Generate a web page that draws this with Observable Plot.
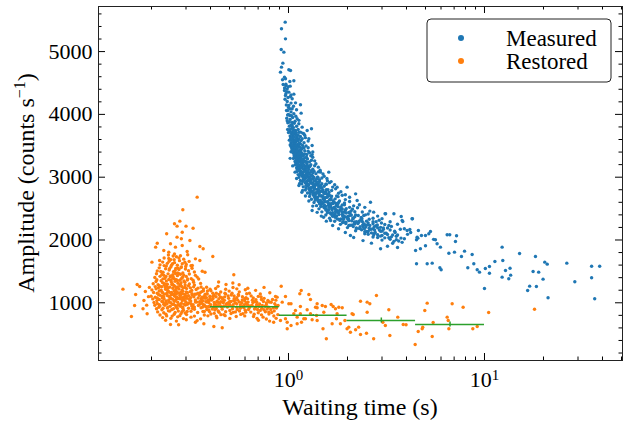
<!DOCTYPE html>
<html><head><meta charset="utf-8">
<script src="https://cdn.jsdelivr.net/npm/d3@7"></script>
<script src="https://cdn.jsdelivr.net/npm/@observablehq/plot@0.6"></script>
<style>body{margin:0;background:#fff}</style>
</head><body><div id="chart"></div>
<script>
// ---- data (waiting time s, amplitude counts/s) ----
const measured = [
[0.962,5469],[0.921,5363],[0.965,5203],[0.918,5034],[0.947,4991],[0.936,4816],[0.921,4752],[0.910,4673],[1.004,4710],[1.024,4699],
[0.954,4593],[0.932,4551],[0.965,4567],[1.016,4524],[1.065,4535],[0.939,4476],[0.969,4460],[1.02,4450],[0.985,4407],[0.954,4381],
[1.004,4354],[1.065,4322],[0.965,4301],[1.024,4285],[1.044,4248],[0.985,4205],[1.086,4184],[1.151,4153],[1.004,4142],[1.044,4089],
[0.977,4062],[1.099,4073],[1.16,4020],[1.065,4009],[1.016,3983],[1.107,3930],[0.992,3866],[1.044,3823],[1.129,3850],[1.174,3797],
[1.086,3744],[1.245,3744],[1.31,3771],[1.151,3717],[1.065,3691],[1.197,3691],
[1.00,4110],[1.03,4040],[1.05,3950],[1.08,3890],[1.02,3920],[0.99,3990],[1.06,4130],[1.10,3810],[1.04,3780],[1.12,3760],[1.01,3810],
[1.07,3860],[1.09,3970],[1.13,3905],[0.98,3940],[1.03,4180],
[1.00,3712],[1.04,3688],[1.08,3731],[1.12,3667],[1.18,3702],[1.02,3655],[1.06,3749],[1.10,3640],[0.99,3760],
[1.01,3590],[1.05,3622],[1.07,3571],[1.11,3608],[1.16,3585],[1.22,3630],[1.03,3548],[1.09,3560],[1.14,3540],
[1.02,3512],[1.05,3478],[1.08,3523],[1.12,3490],[1.15,3531],[1.20,3468],[1.04,3455],[1.10,3442],[1.17,3460],
[1.03,3405],[1.06,3380],[1.09,3418],[1.12,3371],[1.16,3396],[1.21,3422],[1.28,3388],[1.07,3347],[1.11,3333],[1.14,3358],[1.19,3341],[1.24,3362],
[1.06,3297],[1.09,3312],[1.12,3276],[1.15,3305],[1.19,3281],[1.25,3290],[1.33,3318],[1.08,3251],[1.11,3238],[1.14,3262],[1.18,3229],[1.22,3255],[1.28,3244],
[1.08,3196],[1.11,3210],[1.15,3181],[1.19,3204],[1.23,3177],[1.30,3199],[1.38,3215],[1.10,3150],[1.13,3133],[1.17,3162],[1.21,3141],[1.26,3158],[1.33,3127],
[1.10,3088],[1.14,3109],[1.18,3076],[1.23,3101],[1.28,3069],[1.35,3094],[1.45,3111],[1.12,3041],[1.16,3058],[1.20,3025],[1.25,3049],[1.31,3033],[1.38,3056],
[1.13,2997],[1.18,3012],[1.22,2981],[1.27,3006],[1.33,2976],[1.41,2999],[1.52,3015],[1.15,2948],[1.20,2962],[1.25,2935],[1.30,2957],[1.36,2941],[1.44,2960],[1.58,2944],
[1.17,2893],[1.22,2911],[1.27,2880],[1.33,2904],[1.40,2875],[1.48,2897],[1.62,2913],[1.19,2846],[1.25,2861],[1.30,2833],[1.36,2858],[1.43,2839],[1.52,2856],[1.68,2842],
[1.22,2795],[1.27,2812],[1.33,2781],[1.40,2806],[1.47,2777],[1.56,2799],[1.74,2814],[1.25,2748],[1.30,2762],[1.37,2733],[1.44,2759],[1.52,2740],[1.61,2757],[1.80,2745],
[1.28,2694],[1.34,2712],[1.41,2683],[1.48,2706],[1.56,2678],[1.66,2699],[1.88,2713],[1.31,2648],[1.38,2661],[1.45,2634],[1.53,2659],[1.62,2640],[1.73,2655],[1.95,2643],
[1.35,2596],[1.42,2611],[1.50,2583],[1.58,2607],[1.68,2579],[1.80,2598],[2.05,2614],[1.39,2547],[1.47,2562],[1.55,2535],[1.64,2560],[1.75,2541],[1.88,2556],[2.15,2544],
[1.43,2496],[1.52,2512],[1.61,2484],[1.71,2507],[1.83,2478],[1.97,2499],[2.25,2513],[1.48,2448],[1.58,2463],[1.68,2436],[1.79,2460],[1.92,2441],[2.08,2457],[2.38,2445],
[1.55,2397],[1.65,2411],[1.76,2383],[1.88,2408],[2.02,2379],[2.20,2399],[2.55,2414],[1.62,2347],[1.73,2363],[1.85,2336],[1.98,2361],[2.14,2342],[2.35,2358],[2.70,2346],
[1.72,2298],[1.83,2312],[1.96,2284],[2.10,2307],[2.28,2281],[2.50,2300],[2.90,2315],[1.84,2249],[1.96,2263],[2.10,2236],[2.26,2261],[2.45,2242],[2.70,2258],[3.10,2246],
[2.00,2197],[2.14,2213],[2.30,2184],[2.48,2208],[2.70,2180],[2.95,2201],[3.35,2216],[2.20,2148],[2.36,2163],[2.55,2136],[2.75,2160],[3.00,2141],[3.30,2158],
[2.45,2098],[2.65,2113],[2.85,2084],[3.10,2107],[3.40,2081],[2.70,2048],[2.95,2062],[3.25,2036],[3.55,2059],
[3.00,1998],[3.30,2012],[3.65,1985],[3.40,1948],[3.80,1962],
[1.05,3725],[1.09,3680],[1.13,3715],[1.06,3598],[1.10,3576],[1.13,3612],[1.07,3497],[1.11,3520],[1.14,3476],[1.18,3505],
[1.08,3392],[1.13,3410],[1.17,3374],[1.10,3365],[1.10,3285],[1.14,3300],[1.17,3262],[1.21,3308],[1.13,3247],
[1.13,3190],[1.17,3205],[1.21,3168],[1.25,3188],[1.16,3145],[1.16,3092],[1.21,3113],[1.25,3080],[1.30,3097],[1.19,3035],
[1.20,2990],[1.25,3008],[1.30,2972],[1.35,2995],[1.23,2930],[1.28,2952],[1.25,2888],[1.30,2906],[1.36,2871],[1.42,2895],[1.28,2830],[1.34,2852],
[1.30,2790],[1.36,2808],[1.43,2772],[1.50,2797],[1.34,2730],[1.41,2752],[1.37,2690],[1.44,2707],[1.51,2672],[1.59,2696],[1.42,2630],[1.50,2652],
[1.46,2590],[1.54,2608],[1.63,2572],[1.72,2594],[1.51,2532],[1.60,2553],[1.56,2490],[1.66,2508],[1.76,2472],[1.88,2494],[1.63,2433],[1.74,2454],
[1.70,2392],[1.81,2407],[1.94,2371],[2.08,2394],[1.80,2333],[1.91,2354],[1.90,2292],[2.03,2308],[2.18,2273],[2.38,2295],[2.03,2230],[2.18,2254],
[2.22,2190],[2.40,2206],[2.60,2172],[2.85,2194],[2.45,2130],[2.55,2092],[2.75,2107],[3.00,2072],[2.85,2040],
[1.015,3735],[1.055,3662],[1.095,3705],[1.15,3648],[1.21,3668],[1.025,3625],[1.065,3555],[1.12,3585],[1.175,3612],[1.26,3575],
[1.03,3488],[1.065,3535],[1.095,3463],[1.13,3512],[1.165,3445],[1.23,3498],[1.045,3432],[1.075,3412],[1.105,3388],[1.15,3429],[1.185,3368],[1.26,3412],[1.32,3360],
[1.07,3322],[1.095,3268],[1.125,3330],[1.165,3288],[1.20,3248],[1.235,3318],[1.31,3270],[1.09,3230],[1.12,3172],[1.16,3228],[1.20,3188],[1.24,3222],[1.28,3168],[1.36,3182],
[1.11,3128],[1.15,3071],[1.19,3132],[1.235,3062],[1.27,3125],[1.33,3071],[1.42,3085],[1.14,3031],[1.19,2972],[1.235,3037],[1.28,2985],[1.32,3028],[1.39,2968],[1.48,2988],
[1.18,2932],[1.23,2872],[1.285,2935],[1.34,2885],[1.39,2926],[1.46,2868],[1.56,2887],[1.23,2832],[1.29,2775],[1.35,2836],[1.42,2786],[1.48,2828],[1.55,2768],[1.66,2788],
[1.29,2733],[1.36,2676],[1.43,2737],[1.50,2686],[1.58,2727],[1.65,2669],[1.79,2690],[1.37,2634],[1.44,2577],[1.52,2638],[1.60,2586],[1.69,2627],[1.78,2569],[1.93,2589],
[1.46,2534],[1.55,2478],[1.64,2538],[1.74,2487],[1.85,2527],[1.95,2471],[2.12,2490],[1.58,2434],[1.68,2378],[1.79,2438],[1.91,2387],[2.05,2427],[2.18,2371],[2.42,2391],
[1.77,2334],[1.89,2278],[2.02,2338],[2.17,2287],[2.34,2327],[2.55,2271],[2.80,2292],[2.06,2234],[2.22,2178],[2.39,2238],[2.58,2187],[2.80,2227],[3.05,2171],[3.20,2190],
[2.50,2134],[2.72,2078],[2.95,2138],[3.20,2087],[3.50,2120],[3.10,2034],[3.45,1978],[3.75,2030],[3.55,2005],
[0.955,4420],[0.97,4330],[0.975,4150],[0.96,4240],[0.99,4060],[0.995,4270],[0.985,3900],[1.01,3880],[1.0,4000],[1.015,4090],[0.97,4480],[0.98,4360],[0.995,4440],[1.03,4310],[1.035,3980],
[1.02,3760],[1.025,3590],[1.035,3700],[1.04,3510],[1.045,3870],[1.05,3640],[1.055,3420],[1.06,3790],[1.03,3830],[1.04,3620],[1.05,3560],[1.06,3470],[1.055,3690],
[1.07,3640],[1.075,3430],[1.08,3580],[1.085,3320],[1.09,3500],[1.095,3240],[1.10,3410],[1.07,3720],[1.08,3370],[1.09,3600],[1.10,3290],[1.085,3470],
[1.11,3450],[1.115,3190],[1.12,3360],[1.13,3100],[1.135,3540],[1.14,3280],[1.15,3420],[1.155,3040],[1.16,3330],[1.12,3230],[1.13,3390],[1.15,3150],[1.16,3210],
[1.17,3290],[1.18,3060],[1.19,3200],[1.20,2960],[1.21,3370],[1.22,3110],[1.23,2920],[1.24,3240],[1.18,3340],[1.20,3090],[1.22,3020],[1.24,3150],[1.19,2990],
[1.25,3100],[1.26,2880],[1.27,3050],[1.28,2800],[1.29,3180],[1.30,2930],[1.31,3090],[1.32,2840],[1.33,3010],[1.34,2760],[1.26,2960],[1.30,3020],[1.33,2890],
[1.35,2940],[1.37,2720],[1.38,2890],[1.40,2660],[1.41,3000],[1.43,2800],[1.44,2930],[1.46,2700],[1.36,2820],[1.39,2760],[1.42,2870],[1.45,2620],
[1.47,2830],[1.49,2600],[1.51,2760],[1.53,2550],[1.55,2890],[1.57,2680],[1.59,2800],[1.61,2520],[1.50,2690],[1.54,2740],[1.58,2610],[1.62,2710],
[1.64,2640],[1.67,2480],[1.70,2600],[1.73,2420],[1.76,2700],[1.79,2530],[1.82,2620],[1.66,2580],[1.71,2520],[1.75,2580],[1.80,2450],
[1.85,2510],[1.89,2380],[1.93,2560],[1.97,2430],[2.01,2330],[2.05,2520],[2.09,2400],[1.87,2450],[1.95,2480],[2.03,2440],[1.91,2330],
[2.13,2350],[2.18,2450],[2.22,2290],[2.27,2390],[2.32,2210],[2.37,2340],[2.42,2260],[2.47,2400],[2.16,2260],[2.29,2300],[2.44,2180],
[2.53,2240],[2.58,2330],[2.64,2170],[2.70,2290],[2.77,2120],[2.84,2240],[2.91,2160],[2.98,2270],[2.60,2230],[2.74,2210],
[3.05,2190],[3.15,2110],[3.25,2230],[3.35,2050],[3.48,2140],[3.6,2080],[3.72,2170],[3.9,2020],[4.05,2090],
[1.20,3550],[1.26,3470],[1.30,3340],[1.36,3260],[1.42,3160],[1.50,3050],[1.57,2980],[1.65,2930],[1.72,2880],[1.85,2770],[1.95,2720],[2.05,2680],
[2.3,2560],[2.45,2520],[2.6,2460],[2.85,2380],[3.0,2340],[3.3,2290],[3.6,2250],[3.9,2180],[4.2,2120],[4.6,2150],[5.5,2010],
[1.02,3300],[1.05,3180],[1.08,3080],[1.10,2980],[1.14,2900],[1.18,2790],[1.22,2700],[1.27,2620],[1.33,2540],[1.40,2440],[1.47,2380],[1.56,2300],
[1.68,2230],[1.80,2180],[1.95,2120],[2.15,2040],[2.4,1990],[2.65,1950],[3.2,1900],[3.6,1880],
[1.27,3612],[1.32,3505],[1.33,3400],[1.456,3080],[1.605,3080],[1.77,2841],[1.99,2841],[2.2,2735],[2.24,2629],[2.62,2602],[2.72,2443],
[3.13,2417],[3.8,2311],[4.27,2338],[4.03,2151],[4.53,2045],[5.0,2072],[1.13,2868],[1.17,2761],[1.32,2470],[1.51,2363],[1.64,2311],[2.07,2072],[2.95,1860],
[3.11,2417],[3.45,2417],[3.76,2374],[4.29,2338],[3.83,2295],[4.16,2167],[4.77,2072],[5.30,2135],[5.20,2099],[4.57,2029],[4.50,2003],
[6.45,2083],[6.65,2083],[7.20,2067],[7.11,1976],[5.62,2003],[5.73,1940],[5.96,1886],[5.00,1908],[4.71,1860],[4.45,1833],[4.50,1621],
[5.10,1621],[5.41,1631],[5.92,1557],[6.01,1525],[6.58,1790],[7.03,1806],[7.63,1737],[7.91,1822],[8.65,1769],[8.22,1557],[8.82,1621],
[9.43,1488],[9.18,1525],[10.1,1546],[10.6,1578],[11.3,1658],[10.0,1228],[10.6,1471],[12.3,1886],[12.4,1674],[12.8,1514],[13.5,1551],
[12.3,1408],[13.3,1382],[13.6,1440],[15.1,1785],[18.2,1737],[17.7,1498],[18.9,1488],[18.4,1260],[16.6,1196],[17.0,1265],[19.9,1376],
[20.3,1647],[20.9,1615],[21.1,1080],[26.3,1631],[28.9,1334],[35.2,1583],[38.7,1583],[35.2,1398],[36.5,1064]
];
const restored = [
[0.232,1712],[0.251,1688],[0.268,1734],[0.292,1695],
[0.221,1604],[0.238,1585],[0.256,1622],[0.271,1597],[0.284,1571],[0.301,1610],[0.318,1589],
[0.214,1508],[0.229,1487],[0.246,1522],[0.259,1495],[0.276,1531],[0.289,1476],[0.309,1512],[0.331,1490],
[0.208,1402],[0.221,1421],[0.234,1388],[0.249,1415],[0.262,1379],[0.271,1432],[0.286,1396],[0.301,1420],[0.319,1384],[0.342,1409],
[0.204,1302],[0.216,1288],[0.228,1321],[0.241,1296],[0.252,1334],[0.259,1279],[0.273,1312],[0.281,1290],[0.296,1326],[0.312,1301],[0.331,1284],[0.356,1309],
[0.201,1205],[0.211,1222],[0.219,1188],[0.236,1214],[0.244,1179],[0.257,1231],[0.266,1196],[0.276,1219],[0.289,1184],[0.302,1226],[0.321,1197],[0.338,1211],[0.368,1189],[0.398,1216],
[0.199,1104],[0.209,1088],[0.221,1121],[0.231,1097],[0.241,1115],[0.249,1079],[0.262,1109],[0.269,1092],[0.281,1124],[0.291,1086],[0.309,1112],[0.329,1095],[0.351,1118],[0.381,1083],[0.412,1106],[0.448,1091],
[0.206,1004],[0.214,988],[0.226,1021],[0.236,995],[0.246,1013],[0.259,979],[0.272,1008],[0.284,990],[0.299,1017],[0.318,984],[0.341,1011],[0.362,993],[0.391,1019],[0.421,986],[0.462,1008],[0.498,991],
[0.212,906],[0.226,889],[0.241,918],[0.254,893],[0.271,911],[0.291,882],[0.309,914],[0.331,896],[0.358,921],[0.392,887],[0.428,909],
[0.221,806],[0.239,791],[0.261,818],[0.279,795],[0.302,812],[0.331,788],[0.372,806],
[0.236,722],[0.268,708],[0.301,731],[0.342,716],
[0.226,1452],[0.243,1461],[0.257,1448],[0.265,1467],[0.281,1455],
[0.224,1352],[0.238,1345],[0.252,1363],[0.264,1341],[0.278,1357],[0.293,1348],
[0.225,1255],[0.239,1262],[0.248,1249],[0.262,1268],[0.271,1252],[0.285,1259],[0.297,1247],
[0.214,1152],[0.228,1159],[0.239,1147],[0.253,1164],[0.263,1149],[0.275,1156],[0.288,1142],[0.305,1161],[0.322,1145],
[0.219,1052],[0.232,1061],[0.245,1046],[0.256,1058],[0.266,1043],[0.279,1064],[0.294,1049],[0.312,1057],[0.335,1045],[0.358,1062],
[0.221,952],[0.234,961],[0.249,946],[0.265,958],[0.281,944],[0.298,963],[0.321,949],[0.347,957],[0.372,948],
[0.244,1761],[0.262,1778],[0.281,1748],[0.306,1765],
[0.228,1648],[0.246,1662],[0.262,1639],[0.278,1671],[0.296,1645],[0.311,1659],
[0.219,1556],[0.236,1541],[0.251,1569],[0.266,1548],[0.283,1562],[0.298,1538],[0.322,1551],
[0.212,1462],[0.231,1438],[0.251,1429],[0.272,1474],[0.292,1441],[0.312,1458],[0.335,1437],
[0.213,1368],[0.229,1381],[0.245,1372],[0.257,1395],[0.268,1366],[0.283,1377],[0.305,1362],[0.326,1359],[0.348,1378],
[0.209,1258],[0.219,1271],[0.232,1281],[0.243,1236],[0.254,1290],[0.267,1241],[0.279,1274],[0.291,1238],[0.309,1271],[0.328,1254],[0.345,1233],
[0.205,1163],[0.217,1132],[0.226,1175],[0.233,1138],[0.247,1166],[0.258,1131],[0.269,1171],[0.282,1165],[0.296,1131],[0.315,1177],[0.333,1135],[0.355,1162],[0.382,1141],
[0.203,1062],[0.213,1035],[0.227,1077],[0.238,1029],[0.251,1072],[0.261,1031],[0.273,1069],[0.287,1033],[0.302,1072],[0.317,1029],[0.346,1077],[0.366,1035],[0.398,1052],
[0.208,961],[0.218,929],[0.231,978],[0.243,931],[0.256,974],[0.268,929],[0.277,971],[0.289,934],[0.305,976],[0.331,931],[0.352,975],[0.381,936],
[0.215,855],[0.231,841],[0.248,868],[0.264,846],[0.286,859],[0.297,838],[0.318,866],[0.344,845],[0.366,862],
[0.228,764],[0.251,752],[0.272,776],[0.291,748],[0.318,771],[0.356,744],
[0.211,1338],[0.217,1238],[0.223,1498],[0.227,1105],[0.233,1302],[0.237,1418],[0.242,1192],[0.247,1542],[0.252,1128],[0.255,1308],
[0.258,1412],[0.261,1193],[0.264,1516],[0.267,1085],[0.270,1352],[0.273,1237],[0.276,1463],[0.279,1115],[0.283,1319],[0.286,1202],
[0.289,1410],[0.293,1088],[0.297,1285],[0.301,1172],[0.306,1378],[0.311,1062],[0.316,1238],[0.322,1125],[0.328,1327],[0.335,1011],
[0.214,1077],[0.219,968],[0.224,1202],[0.229,1017],[0.235,1248],[0.240,985],[0.246,1102],[0.251,1001],[0.257,1135],[0.262,1023],
[0.268,1145],[0.274,962],[0.281,1087],[0.287,1055],[0.294,978],[0.301,1110],[0.309,998],[0.317,1083],[0.326,968],[0.338,1138],
[0.232,1592],[0.241,1628],[0.253,1598],[0.261,1685],[0.272,1552],[0.287,1622],[0.299,1577],[0.245,1705],[0.276,1712],[0.258,1745],
[0.229,912],[0.244,872],[0.259,905],[0.274,868],[0.289,912],[0.304,862],[0.324,908],[0.237,818],[0.255,788],[0.283,828],
[0.382,1248],[0.437,1262],[0.521,1243],[0.361,1178],[0.402,1192],[0.451,1171],[0.498,1186],[0.561,1174],
[0.372,1101],[0.418,1115],[0.472,1094],[0.528,1108],[0.582,1097],
[0.361,1031],[0.388,1045],[0.432,1024],[0.471,1039],[0.509,1021],[0.551,1042],[0.598,1027],
[0.372,962],[0.401,971],[0.439,954],[0.482,968],[0.519,949],[0.568,966],[0.621,957],
[0.383,893],[0.421,884],[0.459,899],[0.502,878],[0.548,894],[0.602,882],
[0.402,822],[0.452,811],[0.509,829],[0.571,815],[0.431,762],[0.502,751],
[0.392,1002],[0.412,1068],[0.445,998],[0.462,1058],[0.488,931],[0.535,1002],[0.455,935],[0.415,928],[0.376,1072],[0.528,1065],
[0.577,1001],[0.592,920],[0.442,850],[0.536,855],[0.395,860],
[0.368,1222],[0.425,1228],[0.478,1215],[0.545,1222],[0.602,1208],
[0.385,1142],[0.428,1151],[0.478,1138],[0.515,1151],[0.555,1132],[0.612,1145],
[0.365,1085],[0.398,1078],[0.441,1062],[0.495,1071],[0.545,1081],[0.598,1065],
[0.381,1012],[0.418,1005],[0.452,1016],[0.491,999],[0.525,1032],[0.562,1011],[0.612,997],
[0.365,932],[0.395,941],[0.428,962],[0.468,948],[0.501,962],[0.545,929],[0.585,944],[0.611,975],
[0.372,861],[0.408,902],[0.438,871],[0.478,858],[0.518,905],[0.562,868],[0.605,851],
[0.388,792],[0.428,788],[0.475,795],[0.541,782],[0.598,791],
[0.345,1152],[0.352,1018],[0.358,1252],[0.362,1088],[0.368,968],[0.375,1132],[0.379,1019],[0.386,1188],[0.391,942],[0.397,1105],
[0.405,1042],[0.411,1152],[0.419,962],[0.427,1095],[0.434,1008],[0.442,1131],[0.449,952],[0.457,1082],[0.465,1002],[0.474,1151],
[0.483,985],[0.492,1108],[0.501,1021],[0.511,1125],[0.522,968],[0.533,1052],[0.544,985],[0.556,1118],[0.568,912],[0.581,1045],
[0.594,968],[0.607,1082],[0.622,1011],[0.638,948],[0.654,1042],[0.671,902],[0.689,1008],[0.708,945],[0.728,1052],[0.749,888],
[0.771,968],[0.793,852],[0.816,1008],[0.838,922],[0.862,1042],[0.885,958],[0.418,832],[0.468,812],[0.522,848],[0.585,828],
[0.48,1292],[0.56,1288],[0.62,1232],[0.68,1198],[0.75,1245],[0.52,1315],[0.44,1330],
[0.632,1152],[0.718,1139],[0.803,1161],[0.618,1063],[0.682,1048],[0.751,1071],[0.829,1052],
[0.611,992],[0.658,1004],[0.712,981],[0.771,999],[0.851,984],[0.631,921],[0.679,934],[0.731,913],[0.792,929],[0.868,917],
[0.642,852],[0.701,841],[0.762,858],[0.821,846],[0.663,782],[0.742,771],[0.842,789],[0.702,722],[0.801,708],
[0.652,958],[0.695,892],[0.745,1021],[0.688,968],[0.761,945],[0.812,892],[0.645,1110],[0.701,1102],
[0.661,1078],[0.725,1092],[0.785,1038],[0.858,1102],[0.672,1018],[0.735,958],[0.798,1012],[0.862,952],
[0.625,892],[0.718,879],[0.778,901],[0.845,871],[0.668,818],[0.728,808],[0.795,822],[0.882,812],
[0.691,752],[0.771,742],[0.865,752],
[0.342,2682],[0.289,2481],[0.279,2300],[0.262,2258],[0.270,2220],[0.300,2220],[0.326,2188],[0.287,2124],[0.239,2099],[0.270,2045],
[0.284,2019],[0.314,1992],[0.214,1949],[0.210,1886],[0.250,1940],[0.265,1886],[0.287,1912],[0.353,1897],[0.367,1860],[0.304,1817],
[0.231,1833],[0.245,1806],[0.411,1737],[0.335,1700],[0.353,1674],[0.201,1647],[0.220,1674],[0.323,1594],[0.363,1503],[0.526,1446],
[0.375,1487],[0.169,1291],[0.174,1260],[0.143,1217],[0.166,1132],[0.183,1037],[0.164,957],[0.190,825],[0.158,782],[0.250,654],
[0.275,650],[0.416,623],[0.459,602],[0.370,666],[0.335,691],[0.186,1180],[0.193,1098],[0.189,962],[0.195,1245],[0.181,905],
[0.918,1264],[1.161,1196],[1.142,1143],[1.27,1132],[1.295,1053],[0.965,1100],[0.875,1090],[0.929,1010],[1.004,984],[1.03,984],
[1.085,877],[1.15,941],[1.245,889],[1.295,825],[1.40,920],[1.486,957],[1.543,941],[1.65,973],[1.514,850],[1.39,798],
[1.32,729],[1.197,745],[1.107,666],[0.985,691],[0.985,586],[0.91,718],[0.84,691],[1.50,586],[1.56,427],[1.737,904],
[1.806,930],[1.88,920],[1.77,825],[1.67,666],[1.84,666],[1.94,718],[1.99,586],[2.07,532],[2.11,825],[2.33,1025],
[2.52,1010],[2.60,984],[2.81,1116],[2.52,850],[2.28,612],[2.2,570],[2.33,495],[2.50,516],[2.72,427],[3.25,889],
[3.12,639],[3.29,479],[0.965,745],[1.03,639],[1.064,825],[1.15,825],[1.22,745],[1.374,930],[1.69,941],[1.40,718],
[1.757,745],[2.03,612],[2.14,814],[3.61,771],[1.40,984],[1.165,691],[1.107,771],
[3.03,691],[3.85,654],[3.98,650],[4.43,336],[4.59,543],[4.81,586],[4.84,612],[4.96,877],[5.10,994],[5.47,686],
[5.41,463],[6.45,771],[6.53,718],[6.58,586],[6.84,984],[7.78,930],[8.72,586],[9.18,623],[10.5,846],[18.0,898]
];
// binned mean of the restored amplitudes (green)
const binLo   = [0.40, 0.897, 1.99, 4.45];
const binHi   = [0.897, 1.99, 4.45, 10.0];
const binMean = [938, 800, 718, 654];
const binErr  = [8, 15, 40, 40];
// axes
const xMajorTicks = [1, 10];
const xMinorTicks = [0.2,0.3,0.4,0.5,0.6,0.7,0.8,0.9,2,3,4,5,6,7,8,9,20,30,40,50];
const yMajorTicks = [1000, 2000, 3000, 4000, 5000];
const yMinorTicks = [200,400,600,800,1200,1400,1600,1800,2200,2400,2600,2800,3200,3400,3600,3800,4200,4400,4600,4800,5200,5400,5600];
const seriesNames  = ["Measured", "Restored"];
const seriesColors = ["#1f77b4", "#ff7f0e"];
const fitColor = "#2ca02c";

const bins = binLo.map((lo, i) => ({lo, hi: binHi[i], mean: binMean[i], err: binErr[i], mid: Math.sqrt(lo * binHi[i])}));

const W = 633, H = 424, mL = 98, mR = 11, mT = 6, mB = 64;
const iw = W - mL - mR, ih = H - mT - mB;
const font = '"Liberation Serif", Tinos, "Times New Roman", "Nimbus Roman", "DejaVu Serif", serif';

const chart = Plot.plot({
  width: W, height: H, marginLeft: mL, marginRight: mR, marginTop: mT, marginBottom: mB,
  style: {fontFamily: font, fontSize: "22px", color: "#000", background: "#fff"},
  x: {type: "log", domain: [0.1073, 50.6]},
  y: {domain: [81, 5718]},
  marks: [
    Plot.dot(measured, {x: d => d[0], y: d => d[1], r: 1.7, fill: seriesColors[0]}),
    Plot.dot(restored, {x: d => d[0], y: d => d[1], r: 1.7, fill: seriesColors[1]}),
    Plot.ruleY(bins, {y: "mean", x1: "lo", x2: "hi", stroke: fitColor, strokeWidth: 1.5}),
    Plot.ruleX(bins, {x: "mid", y1: d => d.mean - d.err, y2: d => d.mean + d.err, stroke: fitColor, strokeWidth: 1.5}),
    Plot.tickX(xMajorTicks, {x: d => d, insetTop: ih - 7, stroke: "#000"}),
    Plot.tickX(xMajorTicks, {x: d => d, insetBottom: ih - 7, stroke: "#000"}),
    Plot.tickX(xMinorTicks, {x: d => d, insetTop: ih - 3.5, stroke: "#000"}),
    Plot.tickX(xMinorTicks, {x: d => d, insetBottom: ih - 3.5, stroke: "#000"}),
    Plot.tickY(yMajorTicks, {y: d => d, insetRight: iw - 7, stroke: "#000"}),
    Plot.tickY(yMajorTicks, {y: d => d, insetLeft: iw - 7, stroke: "#000"}),
    Plot.tickY(yMinorTicks, {y: d => d, insetRight: iw - 3.5, stroke: "#000"}),
    Plot.tickY(yMinorTicks, {y: d => d, insetLeft: iw - 3.5, stroke: "#000"}),
    Plot.frame({stroke: "#222", strokeWidth: 1}),
    Plot.axisX({ticks: xMajorTicks, tickSize: 0, tickPadding: 11, tickFormat: d => String(Math.round(Math.log10(d))), label: null}),
    Plot.axisY({ticks: yMajorTicks, tickSize: 0, tickPadding: 6, tickFormat: d => String(d), label: null})
  ]
});
document.getElementById("chart").appendChild(chart);

const svg = d3.select(chart);
svg.style("font-family", font);
svg.selectAll("g, text").style("font-family", font);
svg.selectAll('g[aria-label="x-axis tick label"] text').each(function () {
  const e = this.textContent;
  const s = d3.select(this);
  s.text(null);
  s.append("tspan").text("10");
  s.append("tspan").attr("dy", "-0.5em").attr("font-size", "15px").text(e);
});

svg.append("text").attr("x", mL + iw / 2).attr("y", 415).attr("text-anchor", "middle")
  .style("font-family", font).attr("font-size", 24).attr("fill", "#000").text("Waiting time (s)");

const yl = svg.append("text").attr("transform", `translate(34,${mT + ih / 2}) rotate(-90)`)
  .attr("text-anchor", "middle").style("font-family", font).attr("font-size", 24).attr("fill", "#000");
yl.append("tspan").text("Amplitude (counts s");
yl.append("tspan").attr("dy", -9).attr("font-size", 16).text("\u22121");
yl.append("tspan").attr("dy", 9).text(")");

const lg = svg.append("g");
lg.append("rect").attr("x", 427).attr("y", 19).attr("width", 184).attr("height", 63).attr("rx", 4)
  .attr("fill", "#fff").attr("stroke", "#222").attr("stroke-width", 1);
seriesNames.forEach((n, i) => {
  lg.append("circle").attr("cx", 461).attr("cy", 38 + i * 23).attr("r", 3).attr("fill", seriesColors[i]);
  lg.append("text").attr("x", 506).attr("y", 45.5 + i * 23).attr("text-anchor", "start")
    .style("font-family", font).attr("font-size", 23).attr("fill", "#000").text(n);
});
</script>
</body></html>
